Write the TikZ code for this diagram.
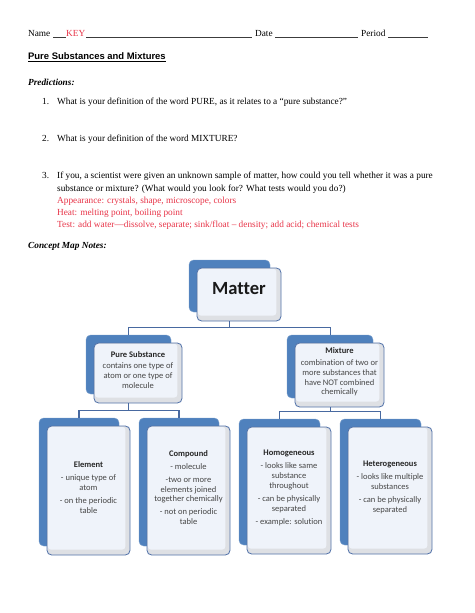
\documentclass[tikz,border=0pt]{standalone}
\usepackage{fontspec}
\setmainfont{Liberation Serif}
\newfontfamily\calib{Carlito}[Ligatures={NoCommon}]
\newfontfamily\titlef{Liberation Sans}
\usetikzlibrary{fit}
\definecolor{keyred}{RGB}{232,52,72}
\definecolor{backblue}{RGB}{79,129,189}
\definecolor{edgeblue}{RGB}{84,116,170}
\definecolor{frontgray}{RGB}{222,224,228}
\definecolor{frontlight}{RGB}{239,243,250}
\definecolor{linkblue}{RGB}{72,105,160}
\definecolor{boxtext}{RGB}{70,70,70}
\definecolor{uline}{RGB}{60,60,60}
\newcommand\boxhead[1]{{\bfseries\color{black!85}#1}}
\tikzset{
  txt/.style={anchor=base west, inner sep=0pt, font=\fontsize{12}{14}\selectfont},
  redtxt/.style={txt, text=keyred},
  ul/.style={draw=uline, line width=0.5pt},
  backbox/.style={fill=backblue, draw=backblue!75!white, line width=0.6pt, rounded corners=6pt, inner sep=0pt},
  frontbox/.style={fill=frontgray, draw=edgeblue, line width=1.1pt, rounded corners=6pt, inner sep=0pt, align=center,
    font=\calib\fontsize{11}{12.8}\selectfont, text=boxtext,
    path picture={\fill[frontlight, rounded corners=4pt] ([shift={(1pt,-1pt)}]path picture bounding box.north west) rectangle ([shift={(-6pt,7pt)}]path picture bounding box.south east);}},
  link/.style={draw=linkblue, line width=1.3pt}
}
\begin{document}
\begin{tikzpicture}[x=1.2911pt,y=-1.2911pt]
\useasboundingbox[fill=white] (0,0) rectangle (474,613);
% header
\node[txt] (name) at (28,36.5) {Name};
\node[redtxt] (key) at (66,36.5) {KEY};
\draw[ul] (53,37.5) -- (65.5,37.5);
\draw[ul] (86,37.5) -- (252,37.5);
\node[txt] (date) at (255,36.5) {Date};
\draw[ul] (275,37.5) -- (358,37.5);
\node[txt] (period) at (361,36.5) {Period};
\draw[ul] (388,37.5) -- (428,37.5);
\node[txt, font=\titlef\bfseries\fontsize{12.2}{14}\selectfont] (title) at (28,59.5) {Pure Substances and Mixtures};
\draw[line width=0.9pt] ([yshift=-2pt]title.base west) -- ([yshift=-2pt]title.base east);
\node[txt, font=\bfseries\itshape\fontsize{12}{14}\selectfont] (pred) at (28,85.5) {Predictions:};
\node[txt] (n1) at (42,104.5) {1.};
\node[txt] (q1) at (57,104.5) {What is your definition of the word PURE, as it relates to a “pure substance?”};
\node[txt] (n2) at (42,141.5) {2.};
\node[txt] (q2) at (57,141.5) {What is your definition of the word MIXTURE?};
\node[txt] (n3) at (42,178.5) {3.};
\node[txt] (q3a) at (57,178.5) {If you, a scientist were given an unknown sample of matter, how could you tell whether it was a pure};
\node[txt] (q3b) at (57,191) {substance or mixture? (What would you look for? What tests would you do?)};
\node[redtxt] (a1) at (57,203.3) {Appearance: crystals, shape, microscope, colors};
\node[redtxt] (a2) at (57,215.4) {Heat: melting point, boiling point};
\node[redtxt] (a3) at (57,227.5) {Test: add water—dissolve, separate; sink/float – density; add acid; chemical tests};
\node[txt, font=\bfseries\itshape\fontsize{12}{14}\selectfont] (cmn) at (28,248) {Concept Map Notes:};
% back boxes
\node[backbox, fit={(189,260) (270,312)}] (matterB) {};
\node[backbox, fit={(86,335) (171,394)}] (pureB) {};
\node[backbox, fit={(287,335) (373,398)}] (mixB) {};
\node[backbox, fit={(39,418) (119,546)}] (elemB) {};
\node[backbox, fit={(139,418) (219,546)}] (compB) {};
\node[backbox, fit={(239,419) (320,545)}] (homoB) {};
\node[backbox, fit={(340,419) (421,545)}] (hetB) {};
% front boxes
\node[frontbox, fit={(197,268) (281,321)}, font=\calib\bfseries\fontsize{24}{28}\selectfont, text=black!90] (matter) {Matter};
\node[frontbox, fit={(94,343) (182,403)}] (pure) {\boxhead{Pure Substance}\\[2pt] contains one type of\\ atom or one type of\\ molecule};
\node[frontbox, fit={(295,343) (384,407)}] (mix) {\boxhead{Mixture}\\[2pt] combination of two or\\ more substances that\\ have NOT combined\\ chemically};
\node[frontbox, fit={(47,426) (130,555)}] (elem) {\boxhead{Element}\\[4pt] - unique type of\\ atom\\[4pt] - on the periodic\\ table};
\node[frontbox, fit={(147,426) (230,555)}] (comp) {\boxhead{Compound}\\[4pt] - molecule\\[4pt] -two or more\\ elements joined\\ together chemically\\[4pt] - not on periodic\\ table};
\node[frontbox, fit={(247,427) (331,554)}] (homo) {\boxhead{Homogeneous}\\[4pt] - looks like same\\ substance\\ throughout\\[4pt] - can be physically\\ separated\\[4pt] - example: solution};
\node[frontbox, fit={(348,427) (432,554)}] (het) {\boxhead{Heterogeneous}\\[4pt] - looks like multiple\\ substances\\[4pt] - can be physically\\ separated};
% connectors
\draw[link] (matterB.south |- matter.south) -- ++(0,6) coordinate (mj);
\draw[link] (mj) -| (pureB.north);
\draw[link] (mj) -| (mixB.north);
\draw[link] (pureB.south |- pure.south) -- ++(0,7) coordinate (pj);
\draw[link] (pj) -| (elemB.north);
\draw[link] (pj) -| (compB.north);
\draw[link] (mixB.south |- mix.south) -- ++(0,4) coordinate (xj);
\draw[link] (xj) -| (homoB.north);
\draw[link] (xj) -| (hetB.north);
\end{tikzpicture}
\end{document}
